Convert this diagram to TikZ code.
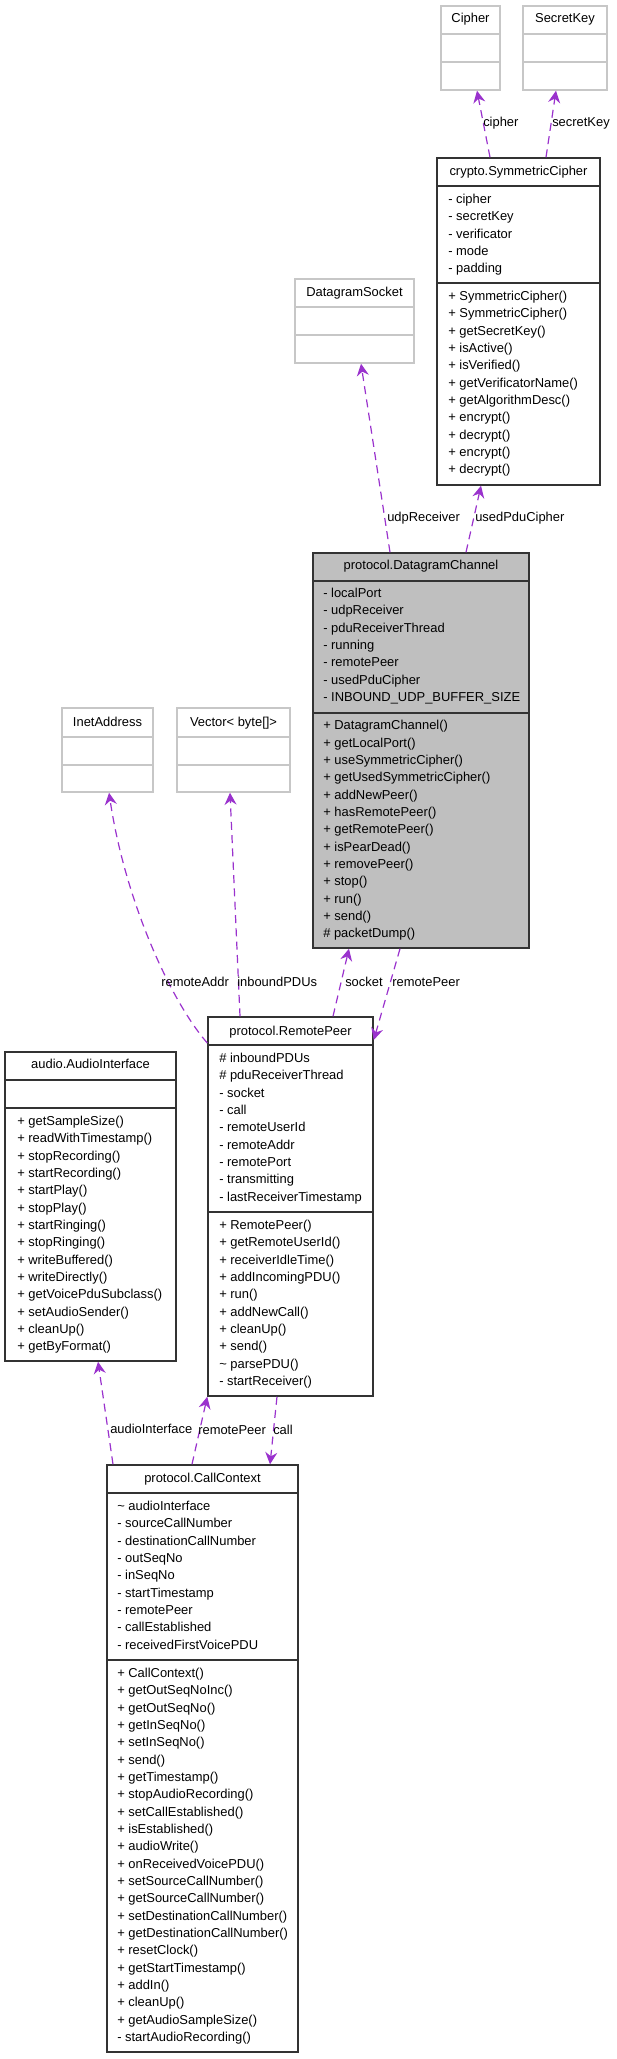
\documentclass[tikz,border=0pt]{standalone}
\usepackage{fontspec}
\usepackage{tikz}
\usetikzlibrary{positioning,fit,arrows.meta}

\newfontfamily\umlsans{Liberation Sans}
\newcommand\umlfont{\umlsans\fontsize{9.7}{13}\selectfont}
\definecolor{edgepurple}{HTML}{9A32CD}
\definecolor{chanfill}{HTML}{BFBFBF}

\tikzset{
  classbox/.style={draw=black!80, line width=1.1pt, fill=white, inner sep=0},
  extbox/.style={draw=black!22, line width=1.1pt, fill=white, inner sep=0},
  divline/.style={draw=black!80, line width=1.1pt},
  extline/.style={draw=black!22, line width=1.1pt},
  hdr/.style={anchor=base, inner sep=0, font=\umlfont},
  members/.style={anchor=north west, align=left, inner sep=0, font=\umlfont},
  rolelbl/.style={anchor=base west, inner sep=0, font=\umlfont},
  assoc/.style={edgepurple, line width=0.9pt, dash pattern=on 6pt off 4pt,
    -{Stealth[length=9pt,width=9pt,inset=3pt]}},
}

\begin{document}
\begin{tikzpicture}[x=0.75pt,y=-0.75pt]
  \useasboundingbox (0,0) rectangle (617,2059);

  % External classes
  \node[extbox, fit={(441,6) (500,90)}] (cipher) {};
  \draw[extline] (441,34) -- (500,34) (441,62) -- (500,62);
  \node[hdr] (cipher-h) at (470.5,23) {Cipher};

  \node[extbox, fit={(523,6) (607,90)}] (skey) {};
  \draw[extline] (523,34) -- (607,34) (523,62) -- (607,62);
  \node[hdr] (skey-h) at (565,23) {SecretKey};

  \node[extbox, fit={(295,279) (414,363)}] (dsock) {};
  \draw[extline] (295,307) -- (414,307) (295,335) -- (414,335);
  \node[hdr] (dsock-h) at (354.5,296) {DatagramSocket};

  \node[extbox, fit={(62,708) (153,792)}] (inet) {};
  \draw[extline] (62,737) -- (153,737) (62,765) -- (153,765);
  \node[hdr] (inet-h) at (107.5,726) {InetAddress};

  \node[extbox, fit={(177,708) (290,792)}] (vec) {};
  \draw[extline] (177,737) -- (290,737) (177,765) -- (290,765);
  \node[hdr] (vec-h) at (233.5,726) {Vector< byte[]>};

  % crypto.SymmetricCipher
  \node[classbox, fit={(437,158) (600,485)}] (symc) {};
  \draw[divline] (437,186) -- (600,186) (437,283) -- (600,283);
  \node[hdr] (symc-h) at (518.5,175) {crypto.SymmetricCipher};
  \node[members] (symc-a) at (448,193.7) {- cipher\\- secretKey\\- verificator\\- mode\\- padding};
  \node[members] (symc-m) at (448,290.7) {+ SymmetricCipher()\\+ SymmetricCipher()\\+ getSecretKey()\\+ isActive()\\+ isVerified()\\+ getVerificatorName()\\+ getAlgorithmDesc()\\+ encrypt()\\+ decrypt()\\+ encrypt()\\+ decrypt()};

  % protocol.DatagramChannel
  \node[classbox, fill=chanfill, fit={(313,553) (529,948)}] (dchan) {};
  \draw[divline] (313,581) -- (529,581) (313,713) -- (529,713);
  \node[hdr] (dchan-h) at (421,569) {protocol.DatagramChannel};
  \node[members] (dchan-a) at (323,587.7) {- localPort\\- udpReceiver\\- pduReceiverThread\\- running\\- remotePeer\\- usedPduCipher\\- INBOUND\_UDP\_BUFFER\_SIZE};
  \node[members] (dchan-m) at (323,720.2) {+ DatagramChannel()\\+ getLocalPort()\\+ useSymmetricCipher()\\+ getUsedSymmetricCipher()\\+ addNewPeer()\\+ hasRemotePeer()\\+ getRemotePeer()\\+ isPearDead()\\+ removePeer()\\+ stop()\\+ run()\\+ send()\\\# packetDump()};

  % protocol.RemotePeer
  \node[classbox, fit={(208,1017) (373,1396)}] (rpeer) {};
  \draw[divline] (208,1045) -- (373,1045) (208,1212) -- (373,1212);
  \node[hdr] (rpeer-h) at (290.5,1035) {protocol.RemotePeer};
  \node[members] (rpeer-a) at (219,1052.7) {\# inboundPDUs\\\# pduReceiverThread\\- socket\\- call\\- remoteUserId\\- remoteAddr\\- remotePort\\- transmitting\\- lastReceiverTimestamp};
  \node[members] (rpeer-m) at (219,1219.7) {+ RemotePeer()\\+ getRemoteUserId()\\+ receiverIdleTime()\\+ addIncomingPDU()\\+ run()\\+ addNewCall()\\+ cleanUp()\\+ send()\\\textasciitilde{} parsePDU()\\- startReceiver()};

  % audio.AudioInterface
  \node[classbox, fit={(5,1052) (176,1361)}] (audio) {};
  \draw[divline] (5,1080) -- (176,1080) (5,1108) -- (176,1108);
  \node[hdr] (audio-h) at (90.5,1068) {audio.AudioInterface};
  \node[members] (audio-m) at (17,1115.7) {+ getSampleSize()\\+ readWithTimestamp()\\+ stopRecording()\\+ startRecording()\\+ startPlay()\\+ stopPlay()\\+ startRinging()\\+ stopRinging()\\+ writeBuffered()\\+ writeDirectly()\\+ getVoicePduSubclass()\\+ setAudioSender()\\+ cleanUp()\\+ getByFormat()};

  % protocol.CallContext
  \node[classbox, fit={(107,1465) (298,2052)}] (call) {};
  \draw[divline] (107,1493) -- (298,1493) (107,1660) -- (298,1660);
  \node[hdr] (call-h) at (202.5,1482) {protocol.CallContext};
  \node[members] (call-a) at (117,1500.7) {\textasciitilde{} audioInterface\\- sourceCallNumber\\- destinationCallNumber\\- outSeqNo\\- inSeqNo\\- startTimestamp\\- remotePeer\\- callEstablished\\- receivedFirstVoicePDU};
  \node[members] (call-m) at (117,1667.7) {+ CallContext()\\+ getOutSeqNoInc()\\+ getOutSeqNo()\\+ getInSeqNo()\\+ setInSeqNo()\\+ send()\\+ getTimestamp()\\+ stopAudioRecording()\\+ setCallEstablished()\\+ isEstablished()\\+ audioWrite()\\+ onReceivedVoicePDU()\\+ setSourceCallNumber()\\+ getSourceCallNumber()\\+ setDestinationCallNumber()\\+ getDestinationCallNumber()\\+ resetClock()\\+ getStartTimestamp()\\+ addIn()\\+ cleanUp()\\+ getAudioSampleSize()\\- startAudioRecording()};

  % Associations
  \draw[assoc] (symc.north -| 490,0) -- (cipher.south -| 477,0);
  \draw[assoc] (symc.north -| 546,0) -- (skey.south -| 556,0);
  \draw[assoc] (dchan.north -| 390,0) -- (dsock.south -| 361,0);
  \draw[assoc] (dchan.north -| 466,0) -- (symc.south -| 481,0);
  \draw[assoc] (rpeer.north -| 333,0) -- (dchan.south -| 349,0);
  \draw[assoc] (dchan.south -| 400,0) -- (rpeer.east |- 0,1040);
  \draw[assoc] (rpeer.north -| 240,0) -- (vec.south -| 230,0);
  \draw[assoc] (rpeer.west |- 0,1043) .. controls (170,1000) and (125,900) .. (inet.south -| 109,0);
  \draw[assoc] (call.north -| 113,0) -- (audio.south -| 98,0);
  \draw[assoc] (call.north -| 192,0) -- (rpeer.south west);
  \draw[assoc] (rpeer.south -| 277,0) -- (call.north -| 270,0);

  % Role labels
  \node[rolelbl] (l-cipher) at (483,127) {cipher};
  \node[rolelbl] (l-skey) at (552,127) {secretKey};
  \node[rolelbl] (l-udp) at (387,521) {udpReceiver};
  \node[rolelbl] (l-used) at (475,521) {usedPduCipher};
  \node[rolelbl] (l-addr) at (161,986) {remoteAddr};
  \node[rolelbl] (l-pdus) at (237,986) {inboundPDUs};
  \node[rolelbl] (l-socket) at (345,986) {socket};
  \node[rolelbl] (l-peer1) at (392,986) {remotePeer};
  \node[rolelbl] (l-audio) at (110,1433) {audioInterface};
  \node[rolelbl] (l-peer2) at (198,1434) {remotePeer};
  \node[rolelbl] (l-call) at (273,1434) {call};
\end{tikzpicture}
\end{document}
